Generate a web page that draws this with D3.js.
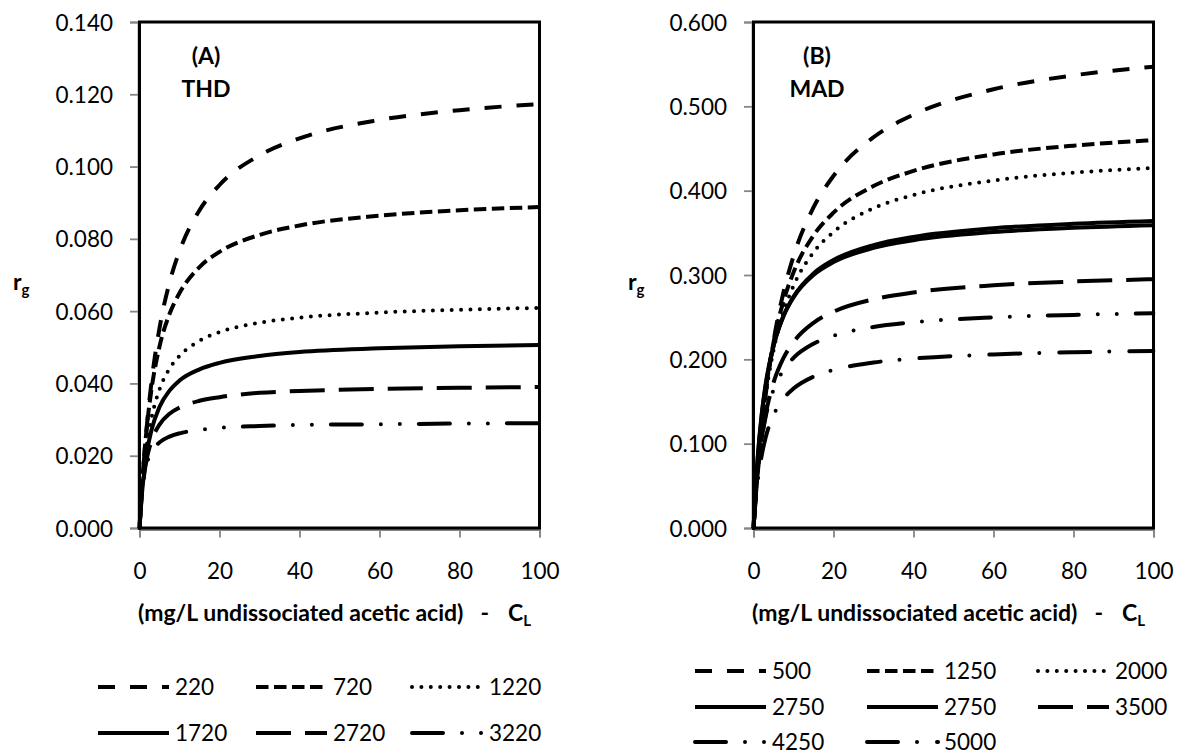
<!DOCTYPE html>
<html>
<head>
<meta charset="utf-8">
<script src="https://cdn.jsdelivr.net/npm/d3@7"></script>
<style>
  html, body { margin: 0; padding: 0; background: #fff; }
  svg text { font-family: Lato, "Open Sans", sans-serif; fill: #000; }
</style>
</head>
<body>
<svg id="chart" width="1185" height="754"></svg>
<script>
// Substrate concentration C_L (mg/L undissociated acetic acid)
const concentration = [0, 0.5, 1, 2, 3, 5, 7.5, 10, 15, 20, 30, 40, 60, 80, 100];

// Panel A (THD): growth rate r_g for each series
const thdNames = ["220", "720", "1220", "1720", "2720", "3220"];
const thd220  = [0, 0.0092, 0.0172, 0.0302, 0.0404, 0.0553, 0.0679, 0.0766, 0.0879, 0.0949, 0.1031, 0.1078, 0.1129, 0.1156, 0.1173];
const thd720  = [0, 0.0098, 0.0177, 0.0297, 0.0384, 0.0502, 0.0592, 0.0650, 0.0722, 0.0764, 0.0811, 0.0837, 0.0864, 0.0879, 0.0888];
const thd1220 = [0, 0.0085, 0.0150, 0.0242, 0.0304, 0.0383, 0.0441, 0.0476, 0.0518, 0.0542, 0.0568, 0.0582, 0.0596, 0.0604, 0.0609];
const thd1720 = [0, 0.0080, 0.0139, 0.0219, 0.0271, 0.0335, 0.0380, 0.0408, 0.0439, 0.0457, 0.0476, 0.0487, 0.0497, 0.0503, 0.0506];
const thd2720 = [0, 0.0081, 0.0134, 0.0201, 0.0241, 0.0286, 0.0316, 0.0333, 0.0352, 0.0362, 0.0374, 0.0379, 0.0385, 0.0388, 0.0390];
const thd3220 = [0, 0.0087, 0.0134, 0.0184, 0.0210, 0.0237, 0.0253, 0.0262, 0.0271, 0.0277, 0.0282, 0.0285, 0.0287, 0.0289, 0.0290];

// Panel B (MAD): growth rate r_g for each series
const madNames = ["500", "1250", "2000", "2750", "2750", "3500", "4250", "5000"];
const mad500   = [0, 0.0333, 0.0631, 0.1140, 0.1561, 0.2213, 0.2797, 0.3223, 0.3801, 0.4176, 0.4633, 0.4901, 0.5202, 0.5367, 0.5470];
const mad1250  = [0, 0.0370, 0.0687, 0.1205, 0.1609, 0.2198, 0.2691, 0.3031, 0.3469, 0.3739, 0.4055, 0.4234, 0.4430, 0.4534, 0.4599];
const mad2000  = [0, 0.0363, 0.0672, 0.1169, 0.1553, 0.2105, 0.2561, 0.2871, 0.3268, 0.3510, 0.3791, 0.3949, 0.4121, 0.4213, 0.4270];
const mad2750a = [0, 0.0442, 0.0792, 0.1309, 0.1674, 0.2153, 0.2514, 0.2743, 0.3018, 0.3178, 0.3355, 0.3452, 0.3554, 0.3607, 0.3640];
const mad2750b = [0, 0.0454, 0.0809, 0.1329, 0.1691, 0.2163, 0.2514, 0.2735, 0.3000, 0.3153, 0.3321, 0.3413, 0.3509, 0.3560, 0.3591];
const mad3500  = [0, 0.0348, 0.0626, 0.1039, 0.1333, 0.1722, 0.2016, 0.2205, 0.2433, 0.2565, 0.2712, 0.2793, 0.2878, 0.2923, 0.2950];
const mad4250  = [0, 0.0375, 0.0656, 0.1049, 0.1311, 0.1639, 0.1873, 0.2017, 0.2185, 0.2280, 0.2384, 0.2439, 0.2497, 0.2527, 0.2546];
const mad5000  = [0, 0.0301, 0.0529, 0.0850, 0.1066, 0.1337, 0.1533, 0.1653, 0.1794, 0.1874, 0.1962, 0.2009, 0.2058, 0.2084, 0.2099];

// Axis ticks
const xTicks = [0, 20, 40, 60, 80, 100];
const thdYTicks = [0, 0.02, 0.04, 0.06, 0.08, 0.10, 0.12, 0.14];
const madYTicks = [0, 0.1, 0.2, 0.3, 0.4, 0.5, 0.6];

// Line styles (stroke-dasharray, linecap)
const STYLES = {
  dash:        { dash: "17,15", cap: "butt" },
  shortDash:   { dash: "12.5,5.5", cap: "butt" },
  dot:         { dash: "0,9.4", cap: "round" },
  solid:       { dash: null, cap: "butt" },
  longDash:    { dash: "35,14", cap: "butt" },
  lgDashDotDot:{ dash: "31,19,0,19,0,19", cap: "round" },
  lgDashDot:   { dash: "31,19,0,20", cap: "round" }
};

const thdSeries = [
  { name: thdNames[0], values: thd220,  style: "dash" },
  { name: thdNames[1], values: thd720,  style: "shortDash" },
  { name: thdNames[2], values: thd1220, style: "dot" },
  { name: thdNames[3], values: thd1720, style: "solid" },
  { name: thdNames[4], values: thd2720, style: "longDash" },
  { name: thdNames[5], values: thd3220, style: "lgDashDotDot" }
];
const madSeries = [
  { name: madNames[0], values: mad500,   style: "dash" },
  { name: madNames[1], values: mad1250,  style: "shortDash" },
  { name: madNames[2], values: mad2000,  style: "dot" },
  { name: madNames[3], values: mad2750a, style: "solid" },
  { name: madNames[4], values: mad2750b, style: "solid" },
  { name: madNames[5], values: mad3500,  style: "longDash" },
  { name: madNames[6], values: mad4250,  style: "lgDashDotDot" },
  { name: madNames[7], values: mad5000,  style: "lgDashDot" }
];

const svg = d3.select("#chart");
const LINE_W = 4;
const AXIS_GREY = "#868686";
const FS = 22.5;

function drawPanel(cfg) {
  const g = svg.append("g");
  const x = d3.scaleLinear().domain([0, 100]).range([cfg.left, cfg.right]);
  const y = d3.scaleLinear().domain([0, cfg.yMax]).range([cfg.bottom, cfg.top]);

  // y axis
  const yAxis = d3.axisLeft(y).tickValues(cfg.yTicks).tickSize(8).tickPadding(17)
    .tickFormat(d3.format(".3f"));
  const ya = g.append("g").attr("transform", `translate(${cfg.left - 1.5},0)`).call(yAxis);
  ya.select(".domain").attr("stroke", AXIS_GREY).attr("stroke-width", 1.8);
  ya.selectAll(".tick line").attr("stroke", AXIS_GREY).attr("stroke-width", 1.8);
  ya.selectAll(".tick text").attr("font-size", FS).attr("font-family", "Lato").attr("dy", "0.36em");

  // x axis
  const xAxis = d3.axisBottom(x).tickValues(xTicks).tickSize(8).tickPadding(25)
    .tickFormat(d3.format("d"));
  const xa = g.append("g").attr("transform", `translate(0,${cfg.bottom + 1.5})`).call(xAxis);
  xa.select(".domain").attr("stroke", AXIS_GREY).attr("stroke-width", 1.8);
  xa.selectAll(".tick line").attr("stroke", AXIS_GREY).attr("stroke-width", 1.8);
  xa.selectAll(".tick text").attr("font-size", FS).attr("font-family", "Lato").attr("dy", "0.72em");

  // plot-area border
  g.append("rect")
    .attr("x", cfg.left).attr("y", cfg.top)
    .attr("width", cfg.right - cfg.left).attr("height", cfg.bottom - cfg.top)
    .attr("fill", "none").attr("stroke", "#000").attr("stroke-width", 3);

  // series lines
  const line = d3.line()
    .x((d, i) => x(concentration[i]))
    .y(d => y(d))
    .curve(d3.curveMonotoneX);
  const clipId = "clip-" + cfg.id;
  g.append("clipPath").attr("id", clipId).append("rect")
    .attr("x", cfg.left - 2).attr("y", cfg.top - 2)
    .attr("width", cfg.right - cfg.left + 4).attr("height", cfg.bottom - cfg.top + 4);
  g.append("g").attr("clip-path", `url(#${clipId})`)
    .selectAll("path").data(cfg.series).join("path")
    .attr("d", d => line(d.values))
    .attr("fill", "none").attr("stroke", "#000")
    .attr("stroke-width", LINE_W)
    .attr("stroke-dasharray", d => STYLES[d.style].dash)
    .attr("stroke-linecap", d => STYLES[d.style].cap)
    .attr("stroke-linejoin", "round");

  // panel tag and name
  g.append("text").attr("x", cfg.tagX).attr("y", 64).attr("text-anchor", "middle")
    .attr("font-size", 23).attr("font-weight", "bold").text(cfg.tag);
  g.append("text").attr("x", cfg.tagX).attr("y", 97).attr("text-anchor", "middle")
    .attr("font-size", 23).attr("font-weight", "bold").text(cfg.label);

  // y title r_g
  const yt = g.append("text").attr("x", cfg.yTitleX).attr("y", 290)
    .attr("font-size", 23).attr("font-weight", "bold");
  yt.append("tspan").text("r");
  yt.append("tspan").attr("font-size", 15).attr("dy", 5).text("g");

  // x title
  const xt = g.append("text").attr("x", (cfg.left + cfg.right) / 2 - 5).attr("y", 621)
    .attr("text-anchor", "middle").attr("font-size", 23).attr("font-weight", "bold");
  xt.append("tspan").text("(mg/L undissociated acetic acid)");
  xt.append("tspan").attr("dx", 17).text("-");
  xt.append("tspan").attr("dx", 19).text("C");
  xt.append("tspan").attr("font-size", 15).attr("dy", 5).text("L");

  // legend
  const lg = g.append("g");
  cfg.series.forEach((s, i) => {
    const col = i % 3, row = Math.floor(i / 3);
    const lx = cfg.legendX[col], ly = cfg.legendY[row];
    lg.append("line").attr("x1", lx).attr("x2", lx + 71).attr("y1", ly).attr("y2", ly)
      .attr("stroke", "#000").attr("stroke-width", LINE_W)
      .attr("stroke-dasharray", STYLES[s.style].dash)
      .attr("stroke-linecap", STYLES[s.style].cap);
    lg.append("text").attr("x", lx + 77).attr("y", ly).attr("dy", "0.36em")
      .attr("font-size", FS).text(s.name);
  });
}

drawPanel({
  id: "thd", left: 139.5, right: 539.5, top: 22, bottom: 528, yMax: 0.14,
  yTicks: thdYTicks, series: thdSeries, tag: "(A)", label: "THD", tagX: 206,
  yTitleX: 13, legendX: [98, 256, 412], legendY: [687, 733]
});
drawPanel({
  id: "mad", left: 753.5, right: 1153.5, top: 22, bottom: 528, yMax: 0.6,
  yTicks: madYTicks, series: madSeries, tag: "(B)", label: "MAD", tagX: 817,
  yTitleX: 628, legendX: [695, 867, 1038], legendY: [671, 707, 742]
});
</script>
</body>
</html>
